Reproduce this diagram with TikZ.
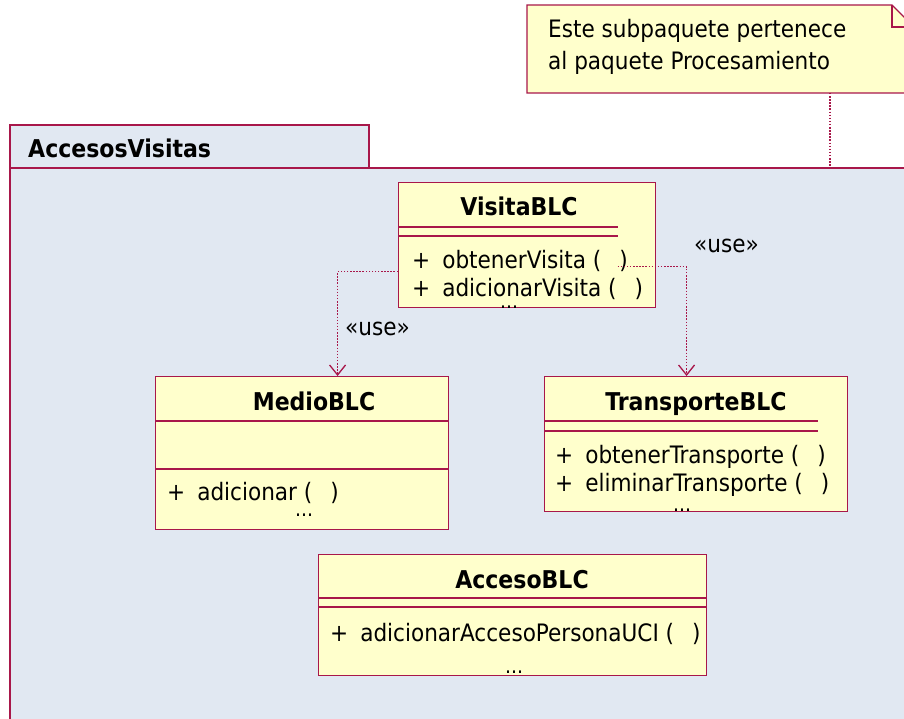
\documentclass[tikz,border=0pt]{standalone}
\usepackage{fontspec}
\setmainfont{DejaVu Sans Condensed}
\usetikzlibrary{arrows.meta}
\definecolor{umlred}{HTML}{A8174A}
\definecolor{umlfill}{HTML}{FFFFCC}
\definecolor{pkgfill}{HTML}{E1E8F2}
\tikzset{
  cls/.style={draw=umlred, fill=umlfill, line width=1.1pt, rectangle, inner sep=0pt},
  cline/.style={draw=umlred, line width=1.1pt},
  ttl/.style={font=\bfseries\fontsize{24.5}{28}\selectfont, inner sep=0pt, anchor=base},
  meth/.style={font=\fontsize{24}{28}\selectfont, inner sep=0pt, anchor=base west},
  dots/.style={font=\fontsize{21}{24}\selectfont, inner sep=0pt, anchor=base},
  dep/.style={draw=umlred, line width=1.5pt, dash pattern=on 1.5pt off 1.6pt, -{Straight Barb[length=10pt,width=16pt,line width=1.3pt]}},
}
\newcommand{\plusgap}{+\hspace{0.5em}}
\newcommand{\parens}{(\hspace{0.75em})}
\begin{document}
\begin{tikzpicture}[x=1pt,y=-1pt]
\useasboundingbox (0,0) rectangle (904,719);
\clip (0,0) rectangle (904,719);
% package
\draw[draw=umlred, fill=pkgfill, line width=1.2pt] (10,125) rectangle (369,168);
\draw[draw=umlred, fill=pkgfill, line width=1.2pt] (10,168) rectangle (915,730);
\node[font=\bfseries\fontsize{24.5}{28}\selectfont, inner sep=0pt, anchor=base west] (pkgname) at (28,158) {AccesosVisitas};
% note
\draw[draw=umlred, fill=umlfill, line width=1.1pt] (527,5) -- (892,5) -- (914,27) -- (914,93) -- (527,93) -- cycle;
\draw[draw=umlred, line width=1.1pt] (892,5) -- (892,27) -- (914,27);
\node[meth, anchor=base west] (note1) at (548,38) {Este subpaquete pertenece};
\node[meth, anchor=base west] (note2) at (548,70) {al paquete Procesamiento};
\coordinate (noteanchor) at (830,93);
\coordinate (pkganchor) at (830,168);
\draw[draw=umlred, line width=1.5pt, dash pattern=on 1.5pt off 1.6pt] (noteanchor) -- (pkganchor);

% VisitaBLC
\node[cls, minimum width=257pt, minimum height=125pt, anchor=north west] (visita) at (398,182) {};
\node[ttl] (visitaT) at (519,216) {VisitaBLC};
\draw[cline] ([yshift=-45pt]visita.north west) -- ++(220pt,0);
\draw[cline] ([yshift=-54pt]visita.north west) -- ++(220pt,0);
\node[meth] (visitaM1) at (412,268) {\plusgap obtenerVisita \parens};
\node[meth] (visitaM2) at (412,296) {\plusgap adicionarVisita \parens};
\node[dots] (visitaD) at (509,308) {...};

% MedioBLC
\node[cls, minimum width=293pt, minimum height=153pt, anchor=north west] (medio) at (155,376) {};
\node[ttl] (medioT) at (314,410) {MedioBLC};
\draw[cline] ([yshift=-45pt]medio.north west) -- ([yshift=-45pt]medio.north east);
\draw[cline] ([yshift=-93pt]medio.north west) -- ([yshift=-93pt]medio.north east);
\node[meth] (medioM1) at (167,500) {\plusgap adicionar \parens};
\node[dots] (medioD) at (304,516) {...};

% TransporteBLC
\node[cls, minimum width=303pt, minimum height=135pt, anchor=north west] (transp) at (544,376) {};
\node[ttl] (transpT) at (696,410) {TransporteBLC};
\draw[cline] ([yshift=-45pt]transp.north west) -- ++(274pt,0);
\draw[cline] ([yshift=-55pt]transp.north west) -- ++(274pt,0);
\node[meth] (transpM1) at (555,463) {\plusgap obtenerTransporte \parens};
\node[meth] (transpM2) at (555,491) {\plusgap eliminarTransporte \parens};
\node[dots] (transpD) at (682,511) {...};

% AccesoBLC
\node[cls, minimum width=388pt, minimum height=121pt, anchor=north west] (acceso) at (318,554) {};
\node[ttl] (accesoT) at (522,588) {AccesoBLC};
\draw[cline] ([yshift=-44pt]acceso.north west) -- ([yshift=-44pt]acceso.north east);
\draw[cline] ([yshift=-53pt]acceso.north west) -- ([yshift=-53pt]acceso.north east);
\node[meth] (accesoM1) at (330,641) {\plusgap adicionarAccesoPersonaUCI \parens};
\node[dots] (accesoD) at (514,673) {...};

% dependencies
\draw[dep] ([yshift=-26.5pt]visita.west) -| ([xshift=35.5pt]medio.north);
\draw[dep] ([xshift=90.5pt,yshift=-21.5pt]visita.center) -| ([xshift=-9.5pt]transp.north);
\node[meth] (use1) at (345,335) {«use»};
\node[meth] (use2) at (694,253) {«use»};
\end{tikzpicture}
\end{document}
